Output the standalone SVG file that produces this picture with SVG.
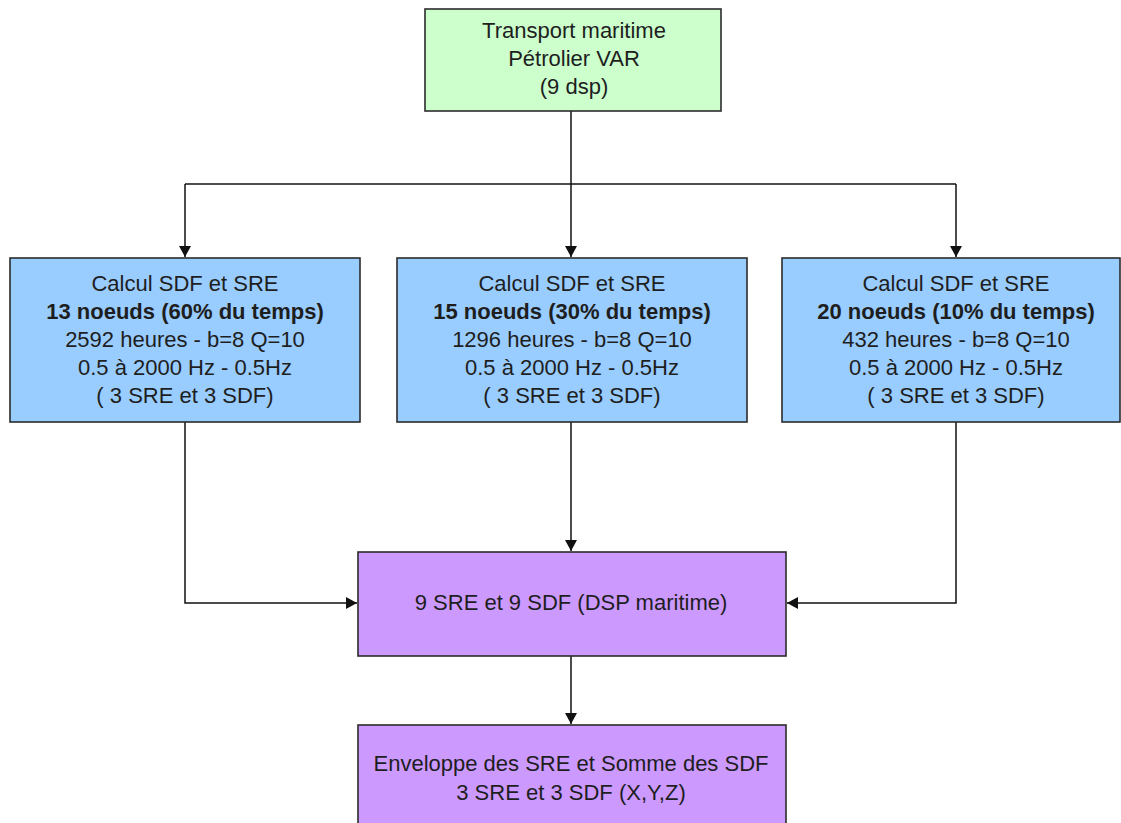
<svg xmlns="http://www.w3.org/2000/svg" width="1121" height="823" viewBox="0 0 1121 823">
  <style>
    .box { stroke: #2b2b2b; stroke-width: 1.6; }
    .green { fill: #ccffcc; }
    .blue { fill: #99ccff; }
    .purple { fill: #cc99ff; }
    text { font-family: "Liberation Sans", Arial, sans-serif; font-size: 22px; fill: #1e1e1e; text-anchor: middle; }
    .b { font-weight: bold; }
    .wire { fill: none; stroke: #111; stroke-width: 1.5; }
  </style>
  <defs>
    <marker id="arrow" viewBox="0 0 11 12" refX="11" refY="6" markerWidth="11" markerHeight="12" markerUnits="userSpaceOnUse" orient="auto">
      <path d="M0,0 L11,6 L0,12 z" fill="#111"/>
    </marker>
  </defs>

  <rect width="1121" height="823" fill="#ffffff"/>

  <g id="connectors">
    <path class="wire" d="M571,111 V184"/>
    <path class="wire" d="M185,184 H956"/>
    <path class="wire" d="M185,184 V257" marker-end="url(#arrow)"/>
    <path class="wire" d="M571,184 V257" marker-end="url(#arrow)"/>
    <path class="wire" d="M956,184 V257" marker-end="url(#arrow)"/>
    <path class="wire" d="M185,422 V603 H357" marker-end="url(#arrow)"/>
    <path class="wire" d="M956,422 V603 H787" marker-end="url(#arrow)"/>
    <path class="wire" d="M571,422 V551" marker-end="url(#arrow)"/>
    <path class="wire" d="M571,656 V724" marker-end="url(#arrow)"/>
  </g>

  <g id="transport">
    <rect class="box green" x="425" y="9" width="296" height="102"/>
    <text x="574" y="38">Transport maritime</text>
    <text x="574" y="66">Pétrolier VAR</text>
    <text x="574" y="94">(9 dsp)</text>
  </g>

  <g id="calcul13">
    <rect class="box blue" x="10" y="258" width="350" height="164"/>
    <text x="185" y="291">Calcul SDF et SRE</text>
    <text x="185" y="319" class="b">13 noeuds (60% du temps)</text>
    <text x="185" y="347">2592 heures - b=8 Q=10</text>
    <text x="185" y="375">0.5 à 2000 Hz - 0.5Hz</text>
    <text x="185" y="403">( 3 SRE et 3 SDF)</text>
  </g>

  <g id="calcul15">
    <rect class="box blue" x="397" y="258" width="350" height="164"/>
    <text x="572" y="291">Calcul SDF et SRE</text>
    <text x="572" y="319" class="b">15 noeuds (30% du temps)</text>
    <text x="572" y="347">1296 heures - b=8 Q=10</text>
    <text x="572" y="375">0.5 à 2000 Hz - 0.5Hz</text>
    <text x="572" y="403">( 3 SRE et 3 SDF)</text>
  </g>

  <g id="calcul20">
    <rect class="box blue" x="782" y="258" width="338" height="164"/>
    <text x="956" y="291">Calcul SDF et SRE</text>
    <text x="956" y="319" class="b">20 noeuds (10% du temps)</text>
    <text x="956" y="347">432 heures - b=8 Q=10</text>
    <text x="956" y="375">0.5 à 2000 Hz - 0.5Hz</text>
    <text x="956" y="403">( 3 SRE et 3 SDF)</text>
  </g>

  <g id="dsp-maritime">
    <rect class="box purple" x="358" y="552" width="428" height="104"/>
    <text x="571" y="610">9 SRE et 9 SDF (DSP maritime)</text>
  </g>

  <g id="enveloppe">
    <rect class="box purple" x="358" y="725" width="428" height="110"/>
    <text x="571" y="771">Enveloppe des SRE et Somme des SDF</text>
    <text x="571" y="800">3 SRE et 3 SDF (X,Y,Z)</text>
  </g>
</svg>
